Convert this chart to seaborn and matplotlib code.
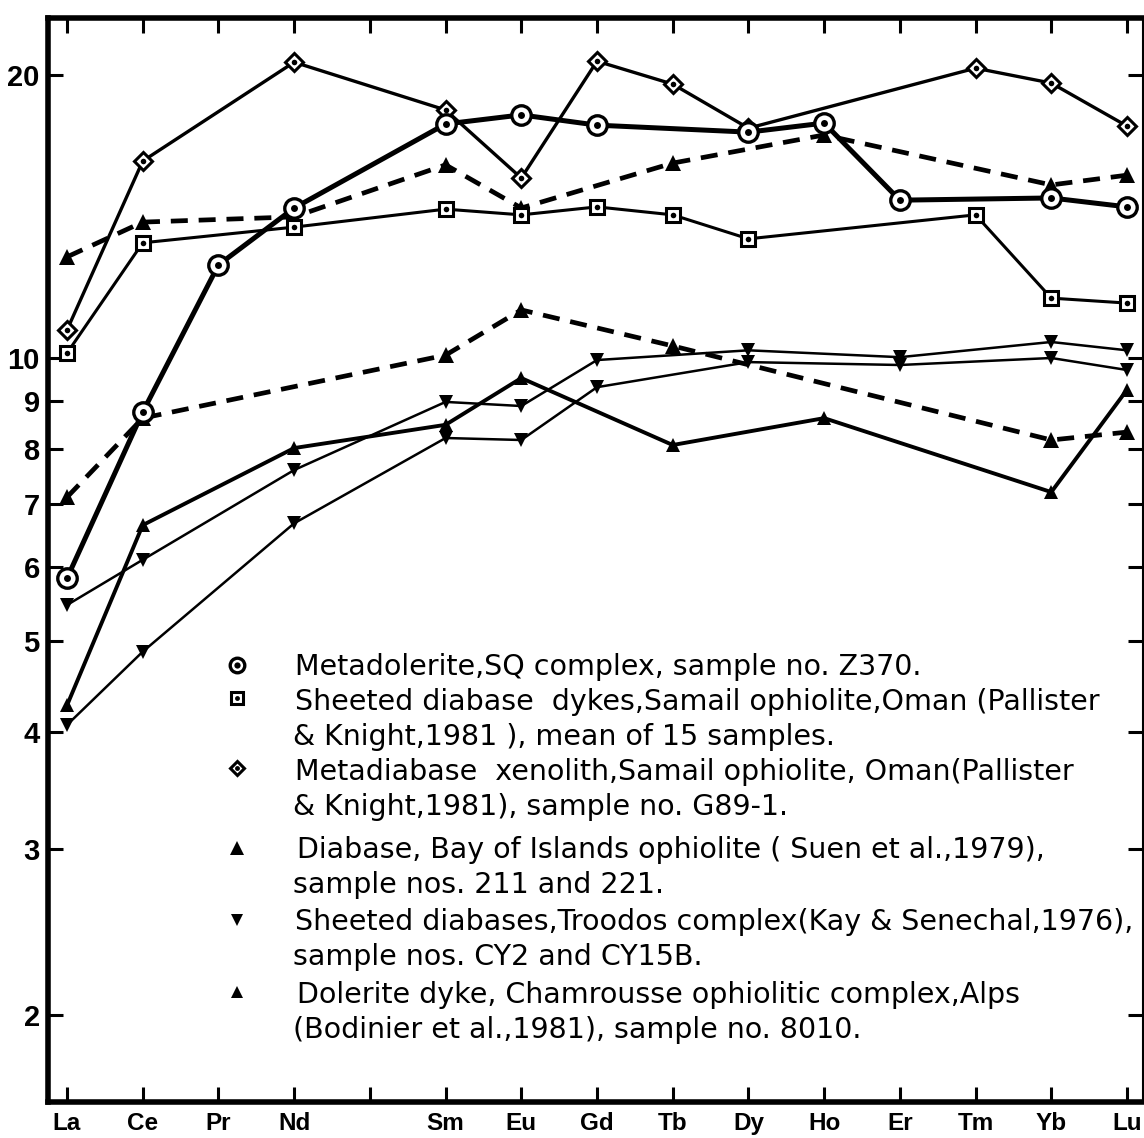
import numpy as np
import pandas as pd
import matplotlib
matplotlib.use("Agg")
import matplotlib.pyplot as plt
from matplotlib.ticker import NullLocator, FixedLocator, FixedFormatter
import seaborn as sns

# ---------------- data ----------------
elements = ["La", "Ce", "Pr", "Nd", "Pm", "Sm", "Eu", "Gd", "Tb", "Dy", "Ho", "Er", "Tm", "Yb", "Lu"]
tick_labels = ["La", "Ce", "Pr", "Nd", "", "Sm", "Eu", "Gd", "Tb", "Dy", "Ho", "Er", "Tm", "Yb", "Lu"]
y_ticks = [2, 3, 4, 5, 6, 7, 8, 9, 10, 20]

# Metadolerite, SQ complex, Z370
metadolerite_el = ["La", "Ce", "Pr", "Nd", "Sm", "Eu", "Gd", "Dy", "Ho", "Er", "Yb", "Lu"]
metadolerite_val = [5.83, 8.76, 12.56, 14.44, 17.74, 18.14, 17.69, 17.39, 17.78, 14.72, 14.80, 14.48]

# Sheeted diabase dykes, Samail (mean of 15)
samail_dykes_el = ["La", "Ce", "Nd", "Sm", "Eu", "Gd", "Tb", "Dy", "Tm", "Yb", "Lu"]
samail_dykes_val = [10.12, 13.26, 13.78, 14.40, 14.20, 14.48, 14.20, 13.39, 14.20, 11.58, 11.44]

# Metadiabase xenolith, Samail, G89-1
xenolith_el = ["La", "Ce", "Nd", "Sm", "Eu", "Gd", "Tb", "Dy", "Tm", "Yb", "Lu"]
xenolith_val = [10.71, 16.20, 20.64, 18.36, 15.54, 20.69, 19.56, 17.56, 20.34, 19.61, 17.65]

# Diabase, Bay of Islands, sample 211
bay211_el = ["La", "Ce", "Nd", "Sm", "Eu", "Tb", "Ho", "Yb", "Lu"]
bay211_val = [12.81, 13.95, 14.13, 16.05, 14.44, 16.12, 17.27, 15.28, 15.65]

# Diabase, Bay of Islands, sample 221
bay221_el = ["La", "Ce", "Sm", "Eu", "Tb", "Yb", "Lu"]
bay221_val = [7.11, 8.63, 10.07, 11.25, 10.30, 8.18, 8.34]

# Sheeted diabases, Troodos, CY2
troodos_a_el = ["La", "Ce", "Nd", "Sm", "Eu", "Gd", "Dy", "Er", "Yb", "Lu"]
troodos_a_val = [5.46, 6.10, 7.60, 8.98, 8.89, 9.95, 10.19, 10.02, 10.40, 10.19]

# Sheeted diabases, Troodos, CY15B
troodos_b_el = ["La", "Ce", "Nd", "Sm", "Eu", "Gd", "Dy", "Er", "Yb", "Lu"]
troodos_b_val = [4.07, 4.87, 6.67, 8.22, 8.18, 9.31, 9.90, 9.83, 10.00, 9.71]

# Dolerite dyke, Chamrousse, 8010
chamrousse_el = ["La", "Ce", "Nd", "Sm", "Eu", "Tb", "Ho", "Yb", "Lu"]
chamrousse_val = [4.27, 6.64, 8.02, 8.49, 9.52, 8.08, 8.63, 7.20, 9.25]

legend_lines = [
    "Metadolerite,SQ complex, sample no. Z370.",
    "Sheeted diabase  dykes,Samail ophiolite,Oman (Pallister",
    "& Knight,1981 ), mean of 15 samples.",
    "Metadiabase  xenolith,Samail ophiolite, Oman(Pallister",
    "& Knight,1981), sample no. G89-1.",
    "Diabase, Bay of Islands ophiolite ( Suen et al.,1979),",
    "sample nos. 211 and 221.",
    "Sheeted diabases,Troodos complex(Kay & Senechal,1976),",
    "sample nos. CY2 and CY15B.",
    "Dolerite dyke, Chamrousse ophiolitic complex,Alps",
    "(Bodinier et al.,1981), sample no. 8010.",
]

# ---------------- figure ----------------
sns.set_theme(style="white")
plt.rcParams["font.family"] = ["DejaVu Sans"]

W, H = 1144, 1138
fig = plt.figure(figsize=(W / 100, H / 100), dpi=100)
fig.patch.set_facecolor("white")
ax_l, ax_r, ax_t, ax_b = 48, 1143, 18, 1102
ax = fig.add_axes([ax_l / W, 1 - ax_b / H, (ax_r - ax_l) / W, (ax_b - ax_t) / H])
ax.set_facecolor("white")
ax.set_yscale("log")


def frame(el, val):
    return pd.DataFrame({"x": [elements.index(e) for e in el], "y": val})


def series(el, val, marker, ms, lw, ls="-", mfc="black", mew=0.0, dot=0.0, z=3):
    df = frame(el, val)
    sns.lineplot(data=df, x="x", y="y", ax=ax, color="black", lw=lw, linestyle=ls,
                 marker=marker, markersize=ms, markerfacecolor=mfc,
                 markeredgecolor="black", markeredgewidth=mew,
                 estimator=None, sort=True, zorder=z, legend=False)
    if dot > 0:
        sns.lineplot(data=df, x="x", y="y", ax=ax, color="black", linestyle="none",
                     marker="o", markersize=dot, markerfacecolor="black",
                     markeredgewidth=0, estimator=None, zorder=z + 0.5, legend=False)


dash = (0, (3.6, 2.3))
series(troodos_a_el, troodos_a_val, "v", 9.5, 1.8, z=3)
series(troodos_b_el, troodos_b_val, "v", 9.5, 1.8, z=3)
series(chamrousse_el, chamrousse_val, "^", 10.5, 2.8, z=3.2)
series(bay221_el, bay221_val, "^", 11.5, 3.4, ls=dash, z=3.1)
series(bay211_el, bay211_val, "^", 11.5, 3.4, ls=dash, z=3.1)
series(samail_dykes_el, samail_dykes_val, "s", 10.5, 2.2, mfc="white", mew=2.2, dot=4, z=4)
series(xenolith_el, xenolith_val, "D", 9.5, 2.4, mfc="white", mew=2.2, dot=4, z=4.2)
series(metadolerite_el, metadolerite_val, "o", 14, 3.6, mfc="white", mew=2.4, dot=5, z=5)

ax.set_xlabel("")
ax.set_ylabel("")

# ---------------- axes styling ----------------
px_per = (1127 - 67) / 14.0
ax.set_xlim((ax_l - 67) / px_per, 14 + (ax_r - 1127) / px_per)
ax.set_ylim(1.616, 23.0)

ax.xaxis.set_major_locator(FixedLocator(list(range(len(elements)))))
ax.xaxis.set_major_formatter(FixedFormatter(tick_labels))
ax.yaxis.set_major_locator(FixedLocator(y_ticks))
ax.yaxis.set_major_formatter(FixedFormatter([str(v) for v in y_ticks]))
ax.yaxis.set_minor_locator(NullLocator())
ax.xaxis.set_minor_locator(NullLocator())

ax.tick_params(axis="both", which="major", direction="in", length=11, width=2.2,
               color="black", top=True, right=True, bottom=True, left=True)
ax.tick_params(axis="y", pad=6)
ax.tick_params(axis="x", pad=7)
for lab in ax.get_yticklabels():
    lab.set_fontfamily(["Liberation Sans", "DejaVu Sans"])
    lab.set_fontweight("bold")
    lab.set_fontsize(21)
    lab.set_color("black")
for lab in ax.get_xticklabels():
    lab.set_fontfamily(["Liberation Sans", "DejaVu Sans"])
    lab.set_fontweight("bold")
    lab.set_fontsize(17.5)
    lab.set_color("black")

for side, w in [("left", 4.0), ("bottom", 4.0), ("top", 4.0), ("right", 1.5)]:
    ax.spines[side].set_visible(True)
    ax.spines[side].set_color("black")
    ax.spines[side].set_linewidth(w)
ax.grid(False)

# ---------------- legend (manual) ----------------
def ax_xy(px, py):
    return (px - ax_l) / (ax_r - ax_l), (ax_b - py) / (ax_b - ax_t)

baselines = [675, 710, 745, 780, 815, 858, 893, 930, 965, 1003, 1038]
text_x = [295, 295, 293, 295, 293, 297, 293, 295, 293, 297, 293]
for s, bl, tx in zip(legend_lines, baselines, text_x):
    xa, ya = ax_xy(tx, bl)
    ax.text(xa, ya, s, transform=ax.transAxes, ha="left", va="baseline",
            fontsize=20.5, color="black", zorder=6)

keys = [
    (665, "o", 10.5, "white", 2.4, 4.5),
    (698, "s", 8.5, "white", 2.2, 3.5),
    (768, "D", 7.5, "white", 2.2, 3.5),
    (848, "^", 10, "black", 0, 0),
    (920, "v", 8.5, "black", 0, 0),
    (992, "^", 9, "black", 0, 0),
]
for py, m, ms, fc, mew, dot in keys:
    xa, ya = ax_xy(237, py)
    ax.plot([xa], [ya], transform=ax.transAxes, marker=m, markersize=ms,
            markerfacecolor=fc, markeredgecolor="black", markeredgewidth=mew,
            linestyle="none", clip_on=False, zorder=6)
    if dot:
        ax.plot([xa], [ya], transform=ax.transAxes, marker="o", markersize=dot,
                markerfacecolor="black", markeredgewidth=0, linestyle="none",
                clip_on=False, zorder=7)

fig.savefig("out.png", dpi=100, facecolor="white")
